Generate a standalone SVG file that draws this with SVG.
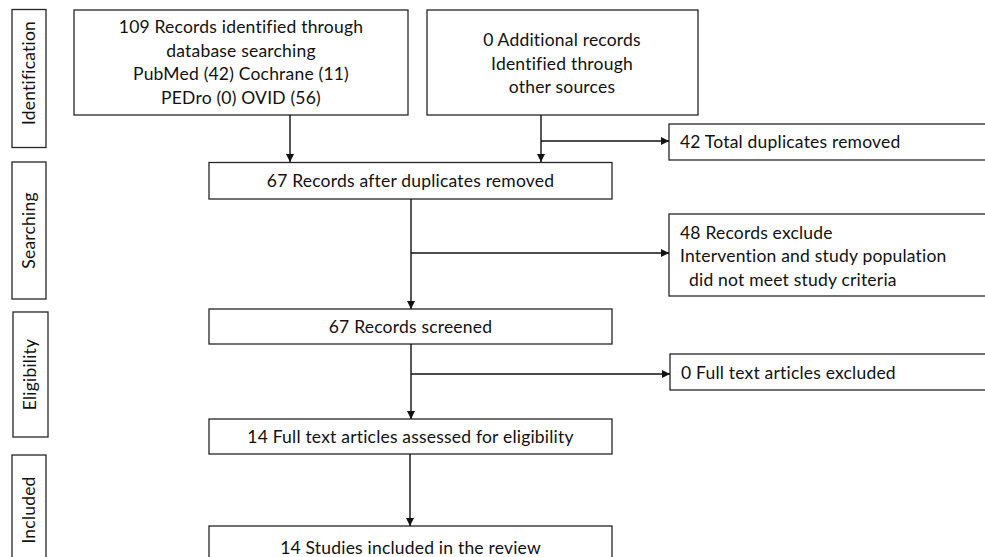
<svg xmlns="http://www.w3.org/2000/svg" width="985" height="557" viewBox="0 0 985 557">
<defs>
<style>
.box{fill:#fff;stroke:#262626;stroke-width:1.3}
.t{font-family:Lato,"Open Sans","Liberation Sans",sans-serif;font-size:17.5px;letter-spacing:0.2px;fill:#111}
.c{text-anchor:middle}
.conn{fill:none;stroke:#111;stroke-width:1.4}
</style>
<marker id="ah" markerUnits="userSpaceOnUse" markerWidth="9" markerHeight="8" refX="8" refY="4" orient="auto">
<path d="M0,0 L8,4 L0,8 z" fill="#111"/>
</marker>
</defs>
<rect width="985" height="557" fill="#fff"/>

<g id="phase-identification">
<rect class="box" x="12" y="9.5" width="34" height="138"/>
<text class="t c" transform="translate(34.5,73) rotate(-90)">Identification</text>
</g>
<g id="phase-searching">
<rect class="box" x="12" y="162" width="34" height="137"/>
<text class="t c" transform="translate(34.5,230.5) rotate(-90)">Searching</text>
</g>
<g id="phase-eligibility">
<rect class="box" x="13" y="312" width="35" height="125"/>
<text class="t c" transform="translate(35.5,374.5) rotate(-90)">Eligibility</text>
</g>
<g id="phase-included">
<rect class="box" x="12" y="455" width="34" height="110"/>
<text class="t c" transform="translate(34.5,510) rotate(-90)">Included</text>
</g>

<g id="n-database">
<rect class="box" x="74" y="10" width="334" height="105"/>
<text class="t c" x="241" y="33">109 Records identified through</text>
<text class="t c" x="241" y="56.5">database searching</text>
<text class="t c" x="241" y="80">PubMed (42) Cochrane (11)</text>
<text class="t c" x="241" y="103.5">PEDro (0) OVID (56)</text>
</g>
<g id="n-other">
<rect class="box" x="427" y="10" width="271" height="105"/>
<text class="t c" x="562" y="46">0 Additional records</text>
<text class="t c" x="562" y="69.5"> Identified through</text>
<text class="t c" x="562" y="93">other sources</text>
</g>
<g id="n-duplicates">
<rect class="box" x="669" y="124" width="330" height="36"/>
<text class="t" x="680" y="148">42 Total duplicates removed</text>
</g>
<g id="n-after-dup">
<rect class="box" x="209" y="162.5" width="403" height="36.5"/>
<text class="t c" x="410.5" y="187">67 Records after duplicates removed</text>
</g>
<g id="n-excluded">
<rect class="box" x="669" y="214" width="330" height="82"/>
<text class="t" x="680" y="238.5">48 Records exclude</text>
<text class="t" x="680" y="262">Intervention and study population</text>
<text class="t" x="689" y="285.5">did not meet study criteria</text>
</g>
<g id="n-screened">
<rect class="box" x="209" y="309" width="403" height="35"/>
<text class="t c" x="410.5" y="333">67 Records screened</text>
</g>
<g id="n-fulltext-excluded">
<rect class="box" x="670" y="354" width="330" height="36"/>
<text class="t" x="681" y="378.5">0 Full text articles excluded</text>
</g>
<g id="n-fulltext">
<rect class="box" x="209" y="419" width="403" height="35"/>
<text class="t c" x="410.5" y="443">14 Full text articles assessed for eligibility</text>
</g>
<g id="n-included">
<rect class="box" x="209" y="526" width="403" height="40"/>
<text class="t c" x="410.5" y="554">14 Studies included in the review</text>
</g>

<g id="connectors">
<path class="conn" d="M290,115 V162" marker-end="url(#ah)"/>
<path class="conn" d="M541,115 V162" marker-end="url(#ah)"/>
<path class="conn" d="M541,141 H669" marker-end="url(#ah)"/>
<path class="conn" d="M411,199 V309" marker-end="url(#ah)"/>
<path class="conn" d="M411,253 H669" marker-end="url(#ah)"/>
<path class="conn" d="M411,344 V419" marker-end="url(#ah)"/>
<path class="conn" d="M411,374 H670" marker-end="url(#ah)"/>
<path class="conn" d="M410,454 V526" marker-end="url(#ah)"/>
</g>
</svg>
